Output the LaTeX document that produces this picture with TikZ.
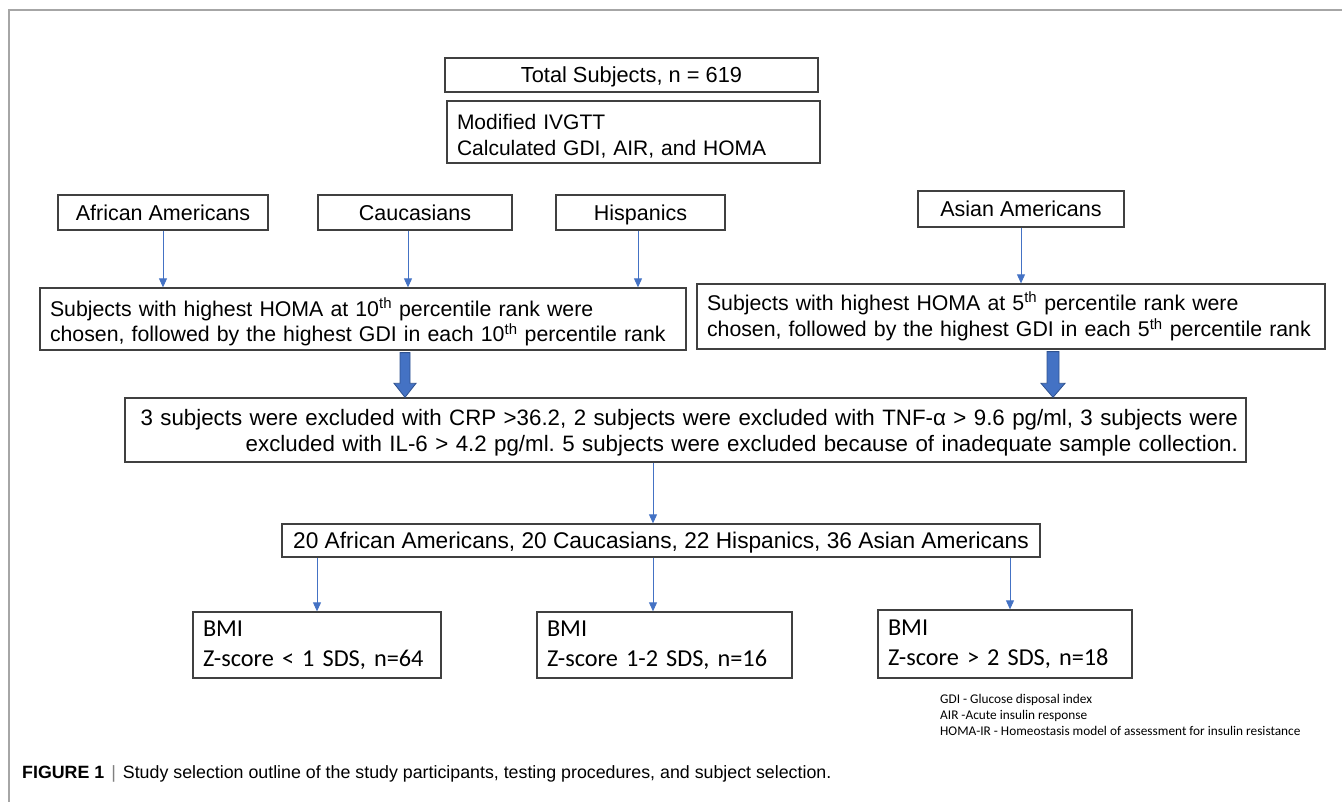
\documentclass[tikz,border=0pt]{standalone}
\usepackage{fontspec}
\setmainfont{Liberation Sans}
\newfontfamily\calib{Carlito}
\usetikzlibrary{arrows.meta,calc}
\definecolor{boxline}{HTML}{404040}
\definecolor{arrowblue}{HTML}{4472C4}
\definecolor{arrowedge}{HTML}{2F528F}
\definecolor{framegray}{HTML}{A6A6A6}
\frenchspacing
\begin{document}
\begin{tikzpicture}[x=1pt,y=-1pt,
 box/.style={draw=boxline, line width=1.3pt, inner sep=0pt, font=\fontsize{21.5}{26}\selectfont},
 sbox/.style={box, text height=18pt, text depth=2pt},
 lbox/.style={box, align=left, inner xsep=10pt},
 bmibox/.style={box, align=left, inner xsep=10pt, font=\calib\fontsize{24.3}{30}\selectfont},
 thinarrow/.style={draw=arrowblue, line width=0.9pt, -{Triangle[width=8pt,length=9pt]}},
 bigarrow/.style={fill=arrowblue, draw=arrowedge, line width=0.8pt, line join=miter},
]
\useasboundingbox (0,0) rectangle (1342,802);
\draw[framegray, line width=1.3pt] (9,802) -- (9,10) -- (1342,10);

\node[sbox, minimum width=373pt, minimum height=34pt, font=\fontsize{21.8}{26}\selectfont] (total) at (631.5,75) {Total Subjects, n = 619};
\node[lbox, minimum width=373pt, minimum height=62pt, text width=353pt, font=\fontsize{21}{26}\selectfont] (mod) at (633.5,132) {\rule{0pt}{24pt}Modified IVGTT\\Calculated GDI, AIR, and HOMA};

\node[sbox, minimum width=210pt, minimum height=35pt] (aa) at (163,212.5) {African Americans};
\node[sbox, minimum width=194pt, minimum height=35pt] (cau) at (415,212.5) {Caucasians};
\node[sbox, minimum width=169pt, minimum height=35pt] (his) at (640.5,212.5) {Hispanics};
\node[sbox, minimum width=206pt, minimum height=36pt] (asian) at (1021,209) {Asian Americans};

\node[lbox, minimum width=646pt, minimum height=62pt, text width=626pt, font=\fontsize{21.3}{25.5}\selectfont] (lsel) at (363,319)
 {\rule{0pt}{24pt}Subjects with highest HOMA at 10\textsuperscript{th} percentile rank were\\chosen, followed by the highest GDI in each 10\textsuperscript{th} percentile rank};
\node[lbox, minimum width=628pt, minimum height=65pt, text width=608pt, font=\fontsize{21.3}{26.5}\selectfont] (rsel) at (1011,316.5)
 {Subjects with highest HOMA at 5\textsuperscript{th} percentile rank were\\chosen, followed by the highest GDI in each 5\textsuperscript{th} percentile rank};

\node[box, align=right, inner xsep=8pt, minimum width=1121pt, minimum height=64pt, text width=1105pt, font=\fontsize{22.3}{26}\selectfont] (excl) at (685.5,430)
 {\rule{0pt}{22pt}3 subjects were excluded with CRP >36.2, 2 subjects were excluded with TNF-α > 9.6 pg/ml, 3 subjects were\\excluded with IL-6 > 4.2 pg/ml. 5 subjects were excluded because of inadequate sample collection.};

\node[sbox, minimum width=758pt, minimum height=33pt, font=\fontsize{22.7}{26}\selectfont] (tot2) at (661,540.5) {20 African Americans, 20 Caucasians, 22 Hispanics, 36 Asian Americans};

\node[bmibox, minimum width=248pt, minimum height=66pt, text width=228pt] (bmi1) at (317,645) {BMI\\Z-score < 1 SDS, n=64};
\node[bmibox, minimum width=255pt, minimum height=66pt, text width=235pt] (bmi2) at (664.5,645) {BMI\\Z-score 1-2 SDS, n=16};
\node[bmibox, minimum width=254pt, minimum height=68pt, text width=234pt] (bmi3) at (1005,644) {BMI\\Z-score > 2 SDS, n=18};

\node[anchor=north west, inner sep=0pt, align=left, font=\calib\fontsize{13.3}{16}\selectfont] (legend) at (940,694)
 {GDI - Glucose disposal index\\AIR -Acute insulin response\\HOMA-IR - Homeostasis model of assessment for insulin resistance};

\node[anchor=base west, inner sep=0pt, font=\fontsize{17.8}{20}\selectfont] (caption) at (22,778)
 {\textbf{FIGURE 1}\hspace{7pt}{\color{gray}|}\hspace{7pt}Study selection outline of the study participants, testing procedures, and subject selection.};

% thin arrows
\coordinate (xc) at (408,0);
\coordinate (xh) at (638,0);
\coordinate (xe) at (653,0);
\coordinate (xb3) at (1010,0);
\draw[thinarrow] (aa.south) -- (aa.south |- lsel.north);
\draw[thinarrow] (cau.south -| xc) -- (lsel.north -| xc);
\draw[thinarrow] (his.south -| xh) -- (lsel.north -| xh);
\draw[thinarrow] (asian.south) -- (asian.south |- rsel.north);
\draw[thinarrow] (excl.south -| xe) -- (tot2.north -| xe);
\draw[thinarrow] (tot2.south -| bmi1.north) -- (bmi1.north);
\draw[thinarrow] (tot2.south -| xe) -- (bmi2.north -| xe);
\draw[thinarrow] (tot2.south -| xb3) -- (bmi3.north -| xb3);

% thick arrows
\coordinate (xl) at (405,0);
\coordinate (xr) at (1053,0);
\coordinate (la) at ($(lsel.south -| xl)+(0,2)$);
\coordinate (lb) at (excl.north -| xl);
\coordinate (ra) at ($(rsel.south -| xr)+(0,2)$);
\coordinate (rb) at (excl.north -| xr);
\draw[bigarrow] ($(la)+(-5,0)$) -- ($(la)+(5,0)$) -- ($(lb)+(5,-14)$) -- ($(lb)+(11,-14)$) -- (lb) -- ($(lb)+(-11,-14)$) -- ($(lb)+(-5,-14)$) -- cycle;
\draw[bigarrow] ($(ra)+(-6,0)$) -- ($(ra)+(6,0)$) -- ($(rb)+(6,-14)$) -- ($(rb)+(12,-14)$) -- (rb) -- ($(rb)+(-12,-14)$) -- ($(rb)+(-6,-14)$) -- cycle;
\end{tikzpicture}
\end{document}
